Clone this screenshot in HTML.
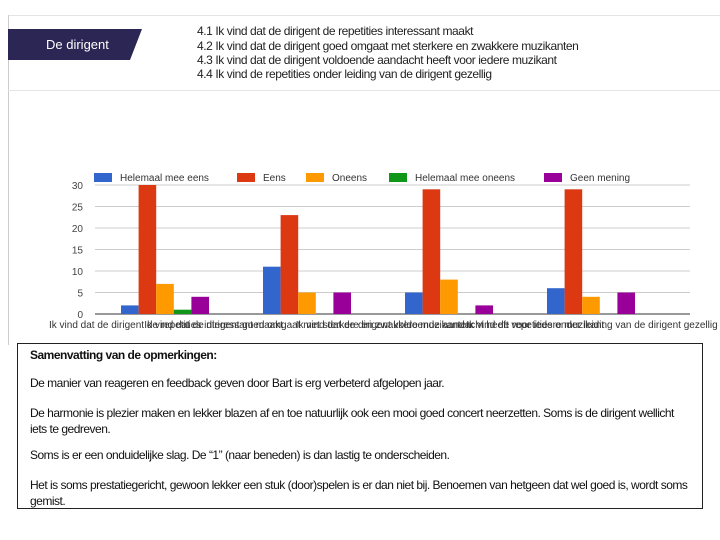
<!DOCTYPE html>
<html><head><meta charset="utf-8"><style>
body{margin:0;width:720px;height:540px;background:#fff;position:relative;overflow:hidden;font-family:"Liberation Sans",sans-serif}
.abs{position:absolute}
.q{position:absolute;left:197px;font-size:12px;letter-spacing:-0.42px;color:#222;white-space:nowrap}
.box p{margin:0;position:absolute;left:12px;font-size:12px;letter-spacing:-0.5px;color:#111;white-space:nowrap}
</style></head><body>
<div class="abs" style="left:8px;top:15px;width:712px;height:1px;background:#e4e4e4"></div>
<div class="abs" style="left:8px;top:15px;width:1px;height:330px;background:#ccc"></div>
<div class="abs" style="left:8px;top:90px;width:712px;height:1px;background:#e4e4e4"></div>
<svg class="abs" style="left:8px;top:29px" width="135" height="31"><polygon points="0,0 134,0 122,31 0,31" fill="#2b2654"/><text x="38" y="20" font-size="13" fill="#fff" font-family="Liberation Sans,sans-serif">De dirigent</text></svg>
<div class="q" style="top:24px">4.1 Ik vind dat de dirigent de repetities interessant maakt</div>
<div class="q" style="top:39px">4.2 Ik vind dat de dirigent goed omgaat  met sterkere en zwakkere muzikanten</div>
<div class="q" style="top:53px">4.3 Ik vind dat de dirigent voldoende aandacht heeft  voor iedere muzikant</div>
<div class="q" style="top:67px">4.4 Ik vind de repetities onder leiding van de dirigent gezellig</div>

<svg id="chart" class="abs" style="left:0;top:165px" width="720" height="172"></svg>

<div class="abs box" style="left:17px;top:343px;width:686px;height:166px;border:1px solid #222;box-sizing:border-box">
<p style="top:4px;font-weight:bold">Samenvatting van de opmerkingen:</p>
<p style="top:32px">De manier van reageren en feedback geven door Bart is erg verbeterd afgelopen jaar.</p>
<p style="top:62px">De harmonie is plezier maken en lekker blazen af en toe natuurlijk ook een mooi goed concert neerzetten. Soms is de dirigent wellicht</p>
<p style="top:78px">iets te gedreven.</p>
<p style="top:104px">Soms is er een onduidelijke slag. De “1” (naar beneden) is dan lastig te onderscheiden.</p>
<p style="top:134px">Het is soms prestatiegericht, gewoon lekker een stuk (door)spelen is er dan niet bij. Benoemen van hetgeen dat wel goed is, wordt soms</p>
<p style="top:150px">gemist.</p>
</div>

<script>
const categories=["Ik vind dat de dirigent de repetities interessant maakt","Ik vind dat de dirigent goed omgaat met sterkere en zwakkere muzikanten","Ik vind dat de dirigent voldoende aandacht heeft voor iedere muzikant","Ik vind de repetities onder leiding van de dirigent gezellig"];
const seriesNames=["Helemaal mee eens","Eens","Oneens","Helemaal mee oneens","Geen mening"];
const seriesColors=["#3366cc","#dc3912","#ff9900","#109618","#990099"];
const helemaalEens=[2,11,5,6];
const eens=[30,23,29,29];
const oneens=[7,5,8,4];
const helemaalOneens=[1,0,0,0];
const geenMening=[4,5,2,5];
const yTicks=[0,5,10,15,20,25,30];
const series=[helemaalEens,eens,oneens,helemaalOneens,geenMening];
const NS="http://www.w3.org/2000/svg";
const svg=document.getElementById('chart');
const x0=95,x1=690,yBase=149,yTop=20,yMax=30;
const y=v=>yBase-(v/yMax)*(yBase-yTop);
const gw=142,bw=17.6,pad=26;
const xb=(g,s)=>x0+g*gw+pad+s*bw;
function el(t,a){const e=document.createElementNS(NS,t);for(const k in a)e.setAttribute(k,a[k]);svg.appendChild(e);return e;}
yTicks.forEach(t=>{
 const l=el('line',{x1:x0,x2:x1,y1:y(t),y2:y(t),stroke:t===0?'#333':'#ccc','stroke-width':1});
 
 
 const tx=el('text',{x:83,y:y(t)+4,'font-size':10,fill:'#444','text-anchor':'end'});
 tx.textContent=t;
 
 
});
series.forEach((vals,s)=>{
 vals.forEach((v,g)=>{
  if(v<=0)return;
  const r=el('rect',{x:xb(g,s),y:y(v),width:bw,height:yBase-y(v),fill:seriesColors[s]});
  
  
 });
});
const lx=[94,237,306,389,544];
seriesNames.forEach((n,s)=>{
 const r=el('rect',{x:lx[s],y:8,width:18,height:9,fill:seriesColors[s]});
 
 
 const t=el('text',{x:lx[s]+26,y:16,'font-size':10,fill:'#333'});
 t.textContent=n;
 
 
});
categories.forEach((c,g)=>{
 const t=el('text',{x:x0+g*gw+gw/2,y:163,'font-size':10,fill:'#333','text-anchor':'middle'});
 t.textContent=c;
 
 
});
</script>
</body></html>
